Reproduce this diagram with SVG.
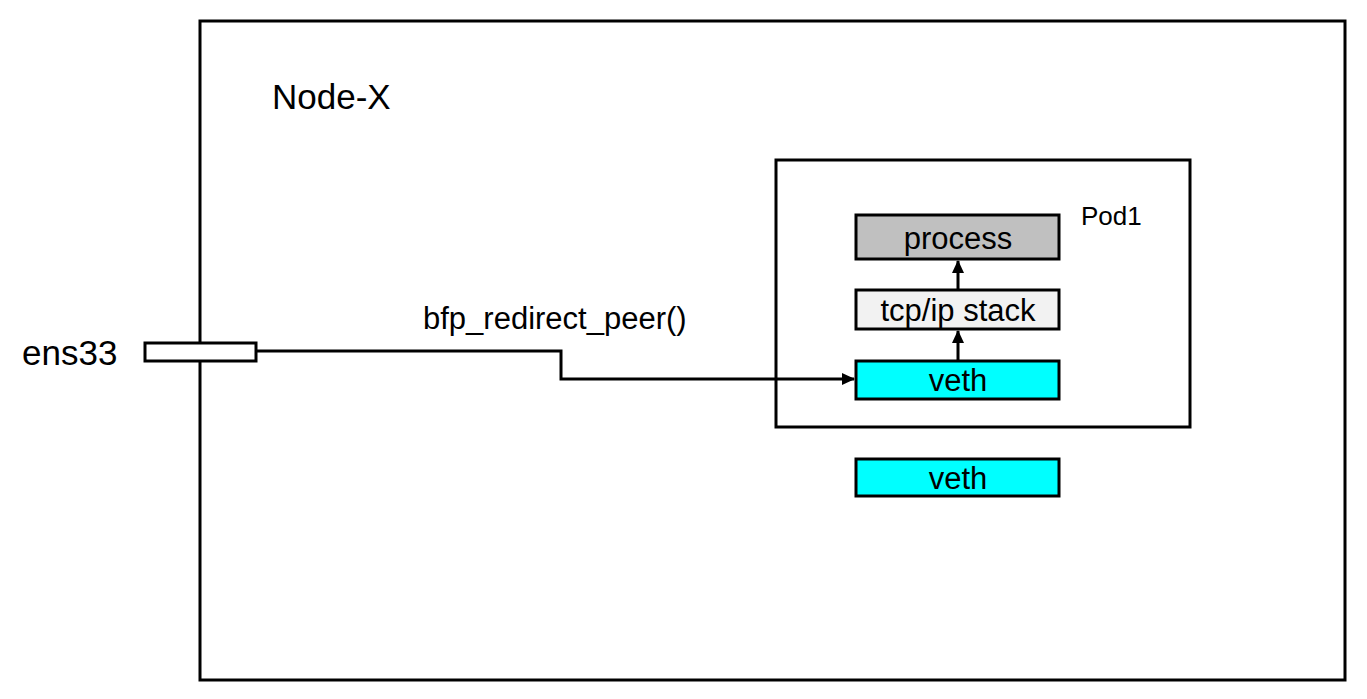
<svg xmlns="http://www.w3.org/2000/svg" width="1367" height="699" viewBox="0 0 1367 699">
<style>
text{font-family:"Liberation Sans",Arial,sans-serif;fill:#000}
.box{stroke:#000;stroke-width:3}
.c{text-anchor:middle;font-size:31px}
.conn{fill:none;stroke:#000;stroke-width:3}
</style>
<defs>
<marker id="ah" markerWidth="13" markerHeight="12" refX="12" refY="6" orient="auto" markerUnits="userSpaceOnUse">
<path d="M0,0 L13,6 L0,12 z" fill="#000"/>
</marker>
</defs>
<rect width="1367" height="699" fill="#fff"/>
<g id="node-x">
<rect class="box" x="200" y="21" width="1145" height="659" fill="none"/>
<text x="272" y="109" font-size="35">Node-X</text>
</g>
<g id="pod1">
<rect class="box" x="776" y="160" width="414" height="267" fill="none"/>
<text x="1081" y="225" font-size="26">Pod1</text>
</g>
<g id="ens33">
<rect class="box" x="145" y="343" width="111" height="18" fill="#fff"/>
<text x="22" y="365" font-size="35">ens33</text>
</g>
<g id="process">
<rect class="box" x="856" y="215" width="203" height="44" fill="#c0c0c0"/>
<text class="c" x="958" y="249">process</text>
</g>
<g id="tcpip">
<rect class="box" x="856" y="290" width="203" height="39" fill="#f2f2f2"/>
<text class="c" x="958" y="321">tcp/ip stack</text>
</g>
<g id="veth1">
<rect class="box" x="856" y="361" width="203" height="38" fill="#00ffff"/>
<text class="c" x="958" y="391" font-size="33">veth</text>
</g>
<g id="veth2">
<rect class="box" x="856" y="459" width="203" height="37" fill="#00ffff"/>
<text class="c" x="958" y="489" font-size="33">veth</text>
</g>
<g id="connectors">
<polyline class="conn" points="256,351 561,351 561,379 854,379" marker-end="url(#ah)"/>
<line class="conn" x1="958" y1="360" x2="958" y2="331" marker-end="url(#ah)"/>
<line class="conn" x1="958" y1="289" x2="958" y2="261" marker-end="url(#ah)"/>
<text x="423" y="329" font-size="31">bfp_redirect_peer()</text>
</g>
</svg>
